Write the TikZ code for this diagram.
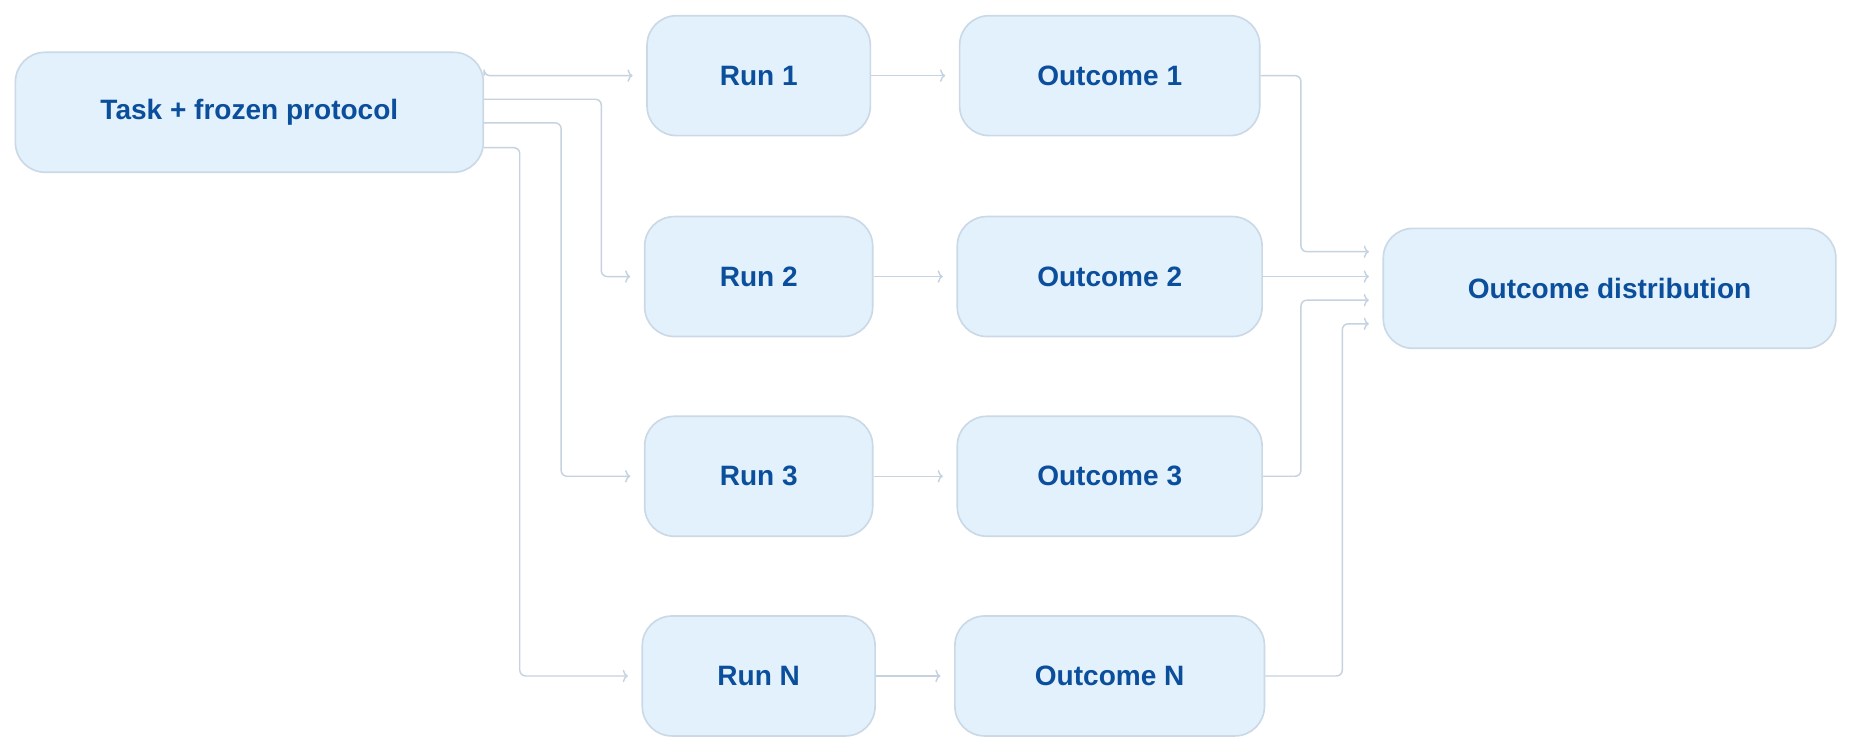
\documentclass[tikz,border=0pt]{standalone}
\usepackage{fontspec}
\setmainfont{Liberation Sans}
\usetikzlibrary{calc,arrows.meta}
\definecolor{boxfill}{HTML}{E3F1FC}
\definecolor{boxline}{HTML}{CBD9E6}
\definecolor{boxtext}{HTML}{0B4F9C}
\definecolor{linkline}{HTML}{C5D3E0}
\begin{document}
\begin{tikzpicture}[x=0.02cm, y=-0.02cm,
    stage/.style={draw=boxline, fill=boxfill, line width=0.8pt, rounded corners=0.5cm,
      minimum height=2.03cm, text=boxtext, font=\fontsize{13.5}{16}\selectfont\bfseries},
    link/.style={draw=linkline, line width=0.7pt, rounded corners=0.1cm,
      -{To[length=2.5pt,width=6pt]}, shorten >=0.23cm}]
  \useasboundingbox (0,0) rectangle (1568,636);

  \node[stage, minimum width=7.92cm]
    (task) at (211, 95) {Task + frozen protocol};

  \node[stage, minimum width=3.78cm] (run1) at (642, 64) {Run 1};
  \node[stage, minimum width=3.86cm] (run2) at (642, 234) {Run 2};
  \node[stage, minimum width=3.86cm] (run3) at (642, 403) {Run 3};
  \node[stage, minimum width=3.94cm] (runN) at (642, 572) {Run N};

  \node[stage, minimum width=5.08cm] (out1) at (939, 64) {Outcome 1};
  \node[stage, minimum width=5.16cm] (out2) at (939, 234) {Outcome 2};
  \node[stage, minimum width=5.16cm] (out3) at (939, 403) {Outcome 3};
  \node[stage, minimum width=5.24cm] (outN) at (939, 572) {Outcome N};

  \node[stage, minimum width=7.66cm]
    (dist) at (1362, 244) {Outcome distribution};

  \draw[link] ($(task.east)+(0,-31)$) -- (task.east |- run1) -- (run1.west);
  \draw[link] ($(task.east)+(0,-11)$) -| ($(run2.west)+(-36,0)$) -- (run2.west);
  \draw[link] ($(task.east)+(0,9)$) -| ($(run3.west)+(-70,0)$) -- (run3.west);
  \draw[link] ($(task.east)+(0,30)$) -| ($(runN.west)+(-103,0)$) -- (runN.west);

  \draw[link] (run1) -- (out1);
  \draw[link] (run2) -- (out2);
  \draw[link] (run3) -- (out3);
  \draw[link] (runN) -- (outN);

  \draw[link] (out1.east) -| ($(dist.west)+(-69,-31)$) -- ($(dist.west)+(0,-31)$);
  \draw[link] (out2.east) -- ($(dist.west)+(0,-10)$);
  \draw[link] (out3.east) -| ($(dist.west)+(-69,10)$) -- ($(dist.west)+(0,10)$);
  \draw[link] (outN.east) -| ($(dist.west)+(-34,30)$) -- ($(dist.west)+(0,30)$);
\end{tikzpicture}
\end{document}
